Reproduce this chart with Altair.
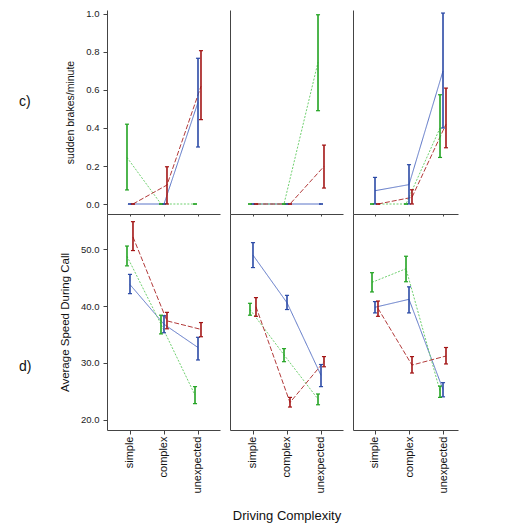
import json
import altair as alt
import pandas as pd

categories = ["simple", "complex", "unexpected"]
series = ["blue", "green", "red"]
row_labels = ["c)", "d)"]
y_titles = ["sudden brakes/minute", "Average Speed During Call"]
x_title = "Driving Complexity"
brakes_ticks = [0.0, 0.2, 0.4, 0.6, 0.8, 1.0]
speed_ticks = [20.0, 30.0, 40.0, 50.0]

# sudden brakes/minute : [panel][category]
brakes_mean_blue = [[0, 0, 0.535], [0, 0, 0], [0.07, 0.102, 0.70]]
brakes_lo_blue = [[0, 0, 0.30], [0, 0, 0], [0, 0, 0.40]]
brakes_hi_blue = [[0, 0, 0.767], [0, 0, 0], [0.14, 0.207, 1.005]]
brakes_mean_green = [[0.245, 0, 0], [0, 0, 0.746], [0, 0, 0.40]]
brakes_lo_green = [[0.074, 0, 0], [0, 0, 0.491], [0, 0, 0.245]]
brakes_hi_green = [[0.42, 0, 0], [0, 0, 0.996], [0, 0, 0.575]]
brakes_mean_red = [[0, 0.10, 0.62], [0, 0, 0.198], [0, 0.035, 0.42]]
brakes_lo_red = [[0, 0, 0.444], [0, 0, 0.084], [0, 0, 0.296]]
brakes_hi_red = [[0, 0.196, 0.807], [0, 0, 0.31], [0, 0.075, 0.61]]

# Average speed during call : [panel][category]
speed_mean_blue = [[43.8, 36.8, 32.7], [49.0, 40.6, 27.8], [39.8, 41.2, 25.3]]
speed_lo_blue = [[42.2, 35.3, 30.5], [46.8, 39.4, 25.8], [38.8, 38.8, 24.0]]
speed_hi_blue = [[45.6, 38.3, 34.5], [51.2, 41.9, 29.7], [40.8, 43.4, 26.5]]
speed_mean_green = [[48.8, 36.8, 24.3], [39.4, 31.4, 23.6], [44.2, 46.6, 25.0]]
speed_lo_green = [[47.1, 35.1, 22.8], [38.4, 30.2, 22.6], [42.5, 44.3, 23.9]]
speed_hi_green = [[50.6, 38.4, 25.8], [40.5, 32.5, 24.5], [45.9, 48.8, 25.9]]
speed_mean_red = [[52.2, 37.4, 35.9], [39.9, 23.0, 30.2], [39.6, 29.6, 31.2]]
speed_lo_red = [[49.8, 36.0, 34.6], [38.2, 22.2, 29.3], [38.2, 28.2, 29.8]]
speed_hi_red = [[54.9, 38.9, 37.1], [41.5, 23.9, 31.1], [40.9, 31.1, 32.7]]

measures = {
    "brakes": {
        "blue": (brakes_mean_blue, brakes_lo_blue, brakes_hi_blue),
        "green": (brakes_mean_green, brakes_lo_green, brakes_hi_green),
        "red": (brakes_mean_red, brakes_lo_red, brakes_hi_red),
    },
    "speed": {
        "blue": (speed_mean_blue, speed_lo_blue, speed_hi_blue),
        "green": (speed_mean_green, speed_lo_green, speed_hi_green),
        "red": (speed_mean_red, speed_lo_red, speed_hi_red),
    },
}

line_colors = ["#5a74c6", "#6fd06f", "#b23a3a"]
bar_colors = ["#2b4aa6", "#22a322", "#a31515"]
dashes = [[1, 0], [2, 1.5], [5, 2]]
FONT = "Liberation Sans"
AX = "#444444"

label_expr = json.dumps(categories) + "[datum.value]"


def panel(mi, p):
    mname = ["brakes", "speed"][mi]
    rows = []
    for s in series:
        means, los, his = measures[mname][s]
        for i, c in enumerate(categories):
            rows.append(dict(series=s, idx=i, cat=c, mean=means[p][i], lo=los[p][i], hi=his[p][i]))
    df = pd.DataFrame(rows)

    width = 105 if p == 2 else 113
    xdom = [-0.647, 2.441] if p == 2 else [-0.676, 2.647]
    height = 204 if mi == 0 else 216
    ydom = [-0.0526, 1.021] if mi == 0 else [18.15, 56.25]

    if mi == 0:
        xaxis = alt.Axis(values=[0, 1, 2], labels=False, ticks=True, tickSize=2, title=None,
                         grid=False, domainColor=AX, tickColor=AX)
    else:
        xaxis = alt.Axis(values=[0, 1, 2], labelExpr=label_expr, labelAngle=-90, tickSize=4,
                         labelPadding=2, labelFont=FONT, labelFontSize=11, labelColor="#111",
                         title=x_title if p == 1 else None, titleFont=FONT, titleFontSize=13,
                         titleFontWeight="normal", titleColor="#111", titlePadding=17,
                         grid=False, domainColor=AX, tickColor=AX, labelFlush=False,
                         labelOverlap=False)
    if p == 0:
        yaxis = alt.Axis(values=brakes_ticks if mi == 0 else speed_ticks, format=".1f",
                         title=y_titles[mi], titleFont=FONT,
                         titleFontSize=10.5 if mi == 0 else 11.5, titleFontWeight="normal",
                         titleColor="#111", titlePadding=10, labelFont=FONT, labelFontSize=9.5,
                         labelColor="#222", tickSize=4, labelPadding=4, grid=False,
                         domainColor=AX, tickColor=AX)
    else:
        yaxis = alt.Axis(labels=False, ticks=False, title=None, grid=False, domainColor=AX)

    xs = alt.Scale(domain=xdom, nice=False, zero=False)
    ys = alt.Scale(domain=ydom, nice=False, zero=False)

    base = alt.Chart(df).transform_calculate(
        off="datum.series === 'green' ? -0.088 : (datum.series === 'red' ? 0.088 : 0)"
    ).transform_calculate(
        pos="datum.idx + datum.off", pl="datum.idx + datum.off - 0.06", pr="datum.idx + datum.off + 0.06"
    )

    lines = base.mark_line(strokeWidth=1).encode(
        x=alt.X("pos:Q", scale=xs, axis=xaxis),
        y=alt.Y("mean:Q", scale=ys, axis=yaxis),
        color=alt.Color("series:N", scale=alt.Scale(domain=series, range=line_colors), legend=None),
        strokeDash=alt.StrokeDash("series:N", scale=alt.Scale(domain=series, range=dashes), legend=None),
        order=alt.Order("idx:Q"),
    )
    stroke = alt.Stroke("series:N", scale=alt.Scale(domain=series, range=bar_colors), legend=None)
    bars = base.mark_rule(strokeWidth=1.6).encode(
        x=alt.X("pos:Q", scale=xs, axis=xaxis),
        y=alt.Y("lo:Q", scale=ys, axis=yaxis),
        y2="hi:Q",
        stroke=stroke,
    )
    cap_hi = base.mark_rule(strokeWidth=1.2).encode(
        x=alt.X("pl:Q", scale=xs, axis=xaxis), x2="pr:Q",
        y=alt.Y("hi:Q", scale=ys, axis=yaxis), stroke=stroke,
    )
    cap_lo = base.mark_rule(strokeWidth=1.2).encode(
        x=alt.X("pl:Q", scale=xs, axis=xaxis), x2="pr:Q",
        y=alt.Y("lo:Q", scale=ys, axis=yaxis), stroke=stroke,
    )
    layers = [lines, bars, cap_hi, cap_lo]
    if p == 0:
        lab = alt.Chart(pd.DataFrame({"label": [row_labels[mi]]})).mark_text(
            align="left", baseline="middle", font=FONT, fontSize=14, color="#111"
        ).encode(text="label:N", x=alt.value(-88), y=alt.value(92 if mi == 0 else 153))
        layers.append(lab)
    return alt.layer(*layers).properties(width=width, height=height)


charts = [panel(mi, p) for mi in range(2) for p in range(3)]
chart = alt.ConcatChart(
    concat=charts, columns=3, spacing={"row": 0, "column": 10}, bounds="flush",
    padding={"left": 11, "top": 0, "right": 5, "bottom": 0},
).configure(background="white").configure_view(stroke=None)

chart.save("out.html", embed_options={"renderer": "svg", "actions": False})
